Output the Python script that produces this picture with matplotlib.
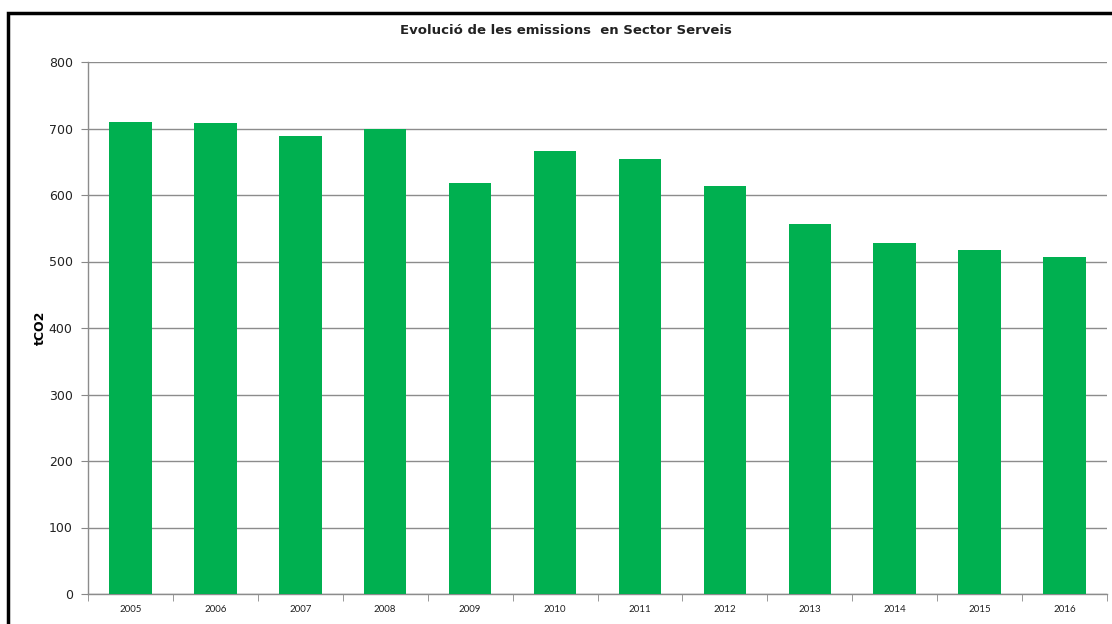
import numpy as np
import matplotlib
matplotlib.use("Agg")
import matplotlib.pyplot as plt
from matplotlib.patches import Rectangle

# data
years = ["2005", "2006", "2007", "2008", "2009", "2010",
         "2011", "2012", "2013", "2014", "2015", "2016"]
emissions = [710, 708, 689, 700, 618, 666, 654, 613, 557, 528, 517, 507]
yticks = [0, 100, 200, 300, 400, 500, 600, 700, 800]

W, H = 1112, 624
fig = plt.figure(figsize=(W / 100, H / 100), dpi=100)
ax = fig.add_axes([88 / W, (H - 594) / H, (1107 - 88) / W, (594 - 62) / H])

x = np.arange(len(years))
ax.bar(x, emissions, width=0.5, color="#00b050", zorder=3)

ax.set_xlim(-0.5, len(years) - 0.5)
ax.set_ylim(0, 800)
ax.set_yticks(yticks)
ax.set_xticks(x)
ax.set_xticklabels(years, fontsize=7, family="Lato", color="#222222")
ax.set_xticks(np.arange(len(years) + 1) - 0.5, minor=True)
ax.tick_params(axis="x", which="major", length=0, pad=8)
ax.tick_params(axis="x", which="minor", length=5, color="#888888", direction="out")
ax.tick_params(axis="y", length=5, color="#888888", labelsize=9, labelcolor="#222222", pad=6)
for lab in ax.get_yticklabels():
    lab.set_family("DejaVu Sans")

ax.grid(axis="y", color="#8c8c8c", linewidth=1, zorder=0)
for s in ["top", "right"]:
    ax.spines[s].set_visible(False)
for s in ["left", "bottom"]:
    ax.spines[s].set_color("#8c8c8c")
    ax.spines[s].set_linewidth(1)

fig.text(40 / W, 1 - 328 / H, "tCO2", rotation=90, ha="center", va="center",
         fontsize=9, fontweight="bold", family="DejaVu Sans")
fig.text(566 / W, 1 - 30 / H, "Evolució de les emissions  en Sector Serveis",
         ha="center", va="center", fontsize=9.5, fontweight="bold", family="DejaVu Sans",
         color="#222222")

# black frame around the chart (runs off the right and bottom edges)
fig.patches.append(Rectangle((8 / W, -0.1), 1.2, (H - 13) / H + 0.1,
                             transform=fig.transFigure, fill=False,
                             edgecolor="black", linewidth=2.5))

fig.savefig("out.png", dpi=100, facecolor="white")
